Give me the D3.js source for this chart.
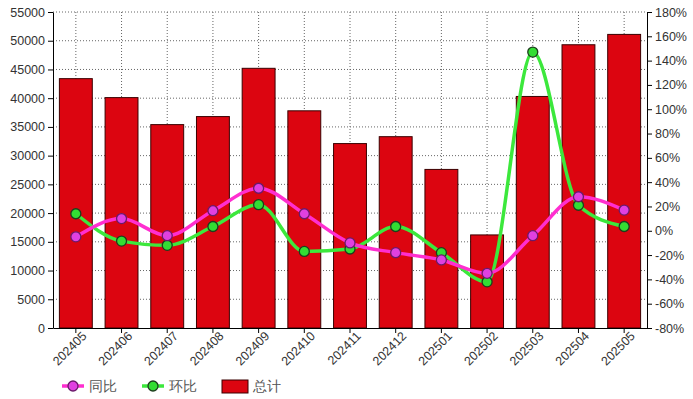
<!DOCTYPE html>
<html>
<head>
<meta charset="utf-8">
<script src="https://cdn.jsdelivr.net/npm/d3@7"></script>
<style>
  body { margin: 0; background: #fff; }
  svg { font-family: "Liberation Sans", Arial, sans-serif; }
  .grid line { stroke: #666; stroke-dasharray: 1,2; }
  .axis text { font-size: 12.5px; fill: #333; }
  .axis path, .axis line { stroke: #000; }
</style>
</head>
<body>
<svg width="693" height="399"></svg>
<script>
const months = ['202405','202406','202407','202408','202409','202410','202411','202412','202501','202502','202503','202504','202505']
const total = [43400, 40100, 35400, 36800, 45200, 37800, 32100, 33300, 27600, 16200, 40300, 49300, 51100]
const yoy = [-5, 10, -4, 16.5, 35, 14, -10, -18, -24, -35, -4, 28, 17]
const mom = [14, -8.5, -12, 3.5, 21.5, -17, -15, 3.5, -18, -42, 147, 21, 3.5]
const leftTicks = d3.range(0, 55001, 5000)
const rightTicks = d3.range(-80, 181, 20)

const dim = {width: 693, height: 399, margin: {top: 12, right: 46, bottom: 71, left: 53}}
const svg = d3.select('svg')

const x = d3.scaleBand()
    .domain(months)
    .range([dim.margin.left, dim.width - dim.margin.right])
    .paddingInner(0.28)
    .paddingOuter(0.14)
const xc = d => x(d) + x.bandwidth() / 2

const yLeft = d3.scaleLinear()
    .domain([0, 55000])
    .range([dim.height - dim.margin.bottom, dim.margin.top])
const yRight = d3.scaleLinear()
    .domain([-80, 180])
    .range([dim.height - dim.margin.bottom, dim.margin.top])

// grid
const grid = svg.append('g').attr('class', 'grid')
grid.selectAll('.h').data(leftTicks.slice(1)).join('line')
    .attr('x1', dim.margin.left).attr('x2', dim.width - dim.margin.right)
    .attr('y1', d => yLeft(d)).attr('y2', d => yLeft(d))
grid.selectAll('.v').data(months).join('line')
    .attr('x1', xc).attr('x2', xc)
    .attr('y1', dim.margin.top).attr('y2', dim.height - dim.margin.bottom)

// bars
svg.append('g').selectAll('rect').data(months).join('rect')
    .attr('x', d => x(d))
    .attr('width', x.bandwidth())
    .attr('y', (d, i) => yLeft(total[i]))
    .attr('height', (d, i) => yLeft(0) - yLeft(total[i]))
    .attr('fill', '#dc0510')
    .attr('stroke', '#3a0000')
    .attr('stroke-width', 1)

// axes
svg.append('g').attr('class', 'axis')
    .attr('transform', `translate(${dim.margin.left},0)`)
    .call(d3.axisLeft(yLeft).tickValues(leftTicks).tickFormat(d3.format('d')).tickSize(5).tickSizeOuter(0))
svg.append('g').attr('class', 'axis')
    .attr('transform', `translate(${dim.width - dim.margin.right},0)`)
    .call(d3.axisRight(yRight).tickValues(rightTicks).tickFormat(d => d + '%').tickSize(5).tickSizeOuter(0))
const xAxis = svg.append('g').attr('class', 'axis')
    .attr('transform', `translate(0,${dim.height - dim.margin.bottom})`)
    .call(d3.axisBottom(x).tickSize(5).tickSizeOuter(0))
xAxis.selectAll('text')
    .attr('text-anchor', 'end')
    .attr('x', 2)
    .attr('y', 10)
    .attr('dy', '0.35em')
    .attr('transform', 'rotate(-45)')

// lines
function drawSeries(vals, color, fill, stroke) {
    const line = d3.line()
        .x((d, i) => xc(months[i]))
        .y(d => yRight(d))
        .curve(d3.curveMonotoneX)
    svg.append('path').datum(vals)
        .attr('d', line)
        .attr('fill', 'none')
        .attr('stroke', color)
        .attr('stroke-width', 3.5)
    svg.append('g').selectAll('circle').data(vals).join('circle')
        .attr('cx', (d, i) => xc(months[i]))
        .attr('cy', d => yRight(d))
        .attr('r', 5)
        .attr('fill', fill)
        .attr('stroke', stroke)
        .attr('stroke-width', 1.3)
}
drawSeries(mom, '#3ce83c', '#33dd33', '#1d3d1d')
drawSeries(yoy, '#ff2ed0', '#e040e0', '#6a1a6a')

// legend
const lg = svg.append('g').attr('transform', 'translate(0,386)')
const items = [
    {name: '同比', color: '#ff2ed0', fill: '#e040e0', stroke: '#6a1a6a', x: 62},
    {name: '环比', color: '#3ce83c', fill: '#33dd33', stroke: '#1d3d1d', x: 142}
]
items.forEach(it => {
    lg.append('line').attr('x1', it.x).attr('x2', it.x + 22).attr('y1', 0).attr('y2', 0)
        .attr('stroke', it.color).attr('stroke-width', 3.5)
    lg.append('circle').attr('cx', it.x + 11).attr('cy', 0).attr('r', 5)
        .attr('fill', it.fill).attr('stroke', it.stroke).attr('stroke-width', 1.3)
    lg.append('text').attr('x', it.x + 27).attr('y', 5).text(it.name)
        .attr('font-size', 14).attr('fill', '#555')
})
lg.append('rect').attr('x', 222).attr('y', -6).attr('width', 26).attr('height', 13)
    .attr('fill', '#dc0510').attr('stroke', '#3a0000')
lg.append('text').attr('x', 253).attr('y', 5).text('总计')
    .attr('font-size', 14).attr('fill', '#555')
</script>
</body>
</html>
